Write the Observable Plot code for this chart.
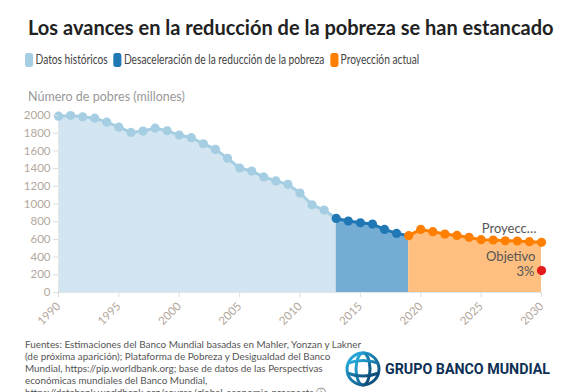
<!DOCTYPE html>
<html><head><meta charset="utf-8">
<script src="https://cdn.jsdelivr.net/npm/d3@7"></script>
<script src="https://cdn.jsdelivr.net/npm/@observablehq/plot@0.6"></script>
<style>
body{margin:0;width:584px;height:392px;overflow:hidden;background:#fff;font-family:Lato,"Open Sans",sans-serif;position:relative}
#title{position:absolute;left:28px;top:15px;font-size:20px;font-weight:700;color:#222;white-space:nowrap}
#legend{position:absolute;left:25px;top:52px;font-size:12.6px;color:#444;display:flex;gap:7px;white-space:nowrap;transform:scaleX(0.81);transform-origin:0 0}
#legend span.sw{display:inline-block;width:10px;height:14px;border-radius:3px;vertical-align:-3px;margin-right:3px}
#ytitle{position:absolute;left:28px;top:89px;font-size:12.5px;color:#999}
#chart{position:absolute;left:0;top:105px}
#caption{position:absolute;left:25px;top:338px;font-size:9.9px;line-height:12px;color:#555;white-space:nowrap}
#logo{position:absolute;left:343px;top:348px}
</style></head>
<body>
<div id="title">Los avances en la reducción de la pobreza se han estancado</div>
<div id="legend"></div>
<div id="ytitle">Número de pobres (millones)</div>
<div id="chart"></div>
<div id="caption">Fuentes: Estimaciones del Banco Mundial basadas en Mahler, Yonzan y Lakner<br>(de próxima aparición); Plataforma de Pobreza y Desigualdad del Banco<br>Mundial, https://pip.worldbank.org; base de datos de las Perspectivas<br>económicas mundiales del Banco Mundial,<br>https://databank.worldbank.org/source/global-economic-prospects ⓘ</div>
<svg id="logo" width="235" height="44" viewBox="0 0 235 44">
  <defs><linearGradient id="g" x1="0" y1="0" x2="1" y2="1"><stop offset="0" stop-color="#29b6e8"/><stop offset="1" stop-color="#0a3d6b"/></linearGradient></defs>
  <g fill="none" stroke="url(#g)" stroke-width="3">
    <circle cx="20" cy="21" r="16"/>
    <ellipse cx="20" cy="21" rx="7" ry="16"/>
    <path d="M5 15 Q20 10 35 15 M4 25 Q20 31 36 25"/>
  </g>
  <text x="42" y="26" font-family="Roboto, sans-serif" font-weight="700" font-size="15.5" fill="#0d2f55" textLength="165" lengthAdjust="spacingAndGlyphs">GRUPO BANCO MUNDIAL</text>
</svg>
<script>
const years = d3.range(1990, 2031);
const poor = [1992,2000,1985,1970,1925,1868,1809,1824,1857,1827,1779,1749,1681,1617,1516,1407,1373,1306,1261,1222,1124,991,931,837,807,788,773,713,668,642,713,687,660,645,623,597,593,585,582,574,567];
const segNames = ["Datos históricos","Desaceleración de la reducción de la pobreza","Proyección actual"];
const segRanges = [[1990,2013],[2013,2019],[2019,2030]];
const lineColors = ["#a6cee3","#1f78b4","#ff7f00"];
const fillColors = ["#d2e5f1","#74acd4","#ffbf80"];
const targetYear = 2030, targetValue = 248;
const xTicks = [1990,1995,2000,2005,2010,2015,2020,2025,2030];
const yTicks = d3.range(0, 2001, 200);

const data = years.map((y,i)=>({year:y, value:poor[i]}));
const seg = k => data.filter(d => d.year >= segRanges[k][0] && d.year <= segRanges[k][1]);
const pointSeg = d => d.year <= 2012 ? 0 : d.year <= 2018 ? 1 : 2;

const leg = document.getElementById("legend");
segNames.forEach((n,k)=>{
  const s=document.createElement("span");
  s.innerHTML=`<span class="sw" style="background:${lineColors[k]}"></span>${n}`;
  leg.appendChild(s);
});

const marks = [];
[0,1,2].forEach(k=>{
  marks.push(Plot.areaY(seg(k), {x:"year", y:"value", fill:fillColors[k]}));
});
marks.push(Plot.ruleY([0], {stroke:"#dde6ee"}));
marks.push(Plot.ruleX([1990], {stroke:"#e6e6e6"}));
[0,1,2].forEach(k=>{
  marks.push(Plot.line(seg(k), {x:"year", y:"value", stroke:lineColors[k], strokeWidth:3}));
});
marks.push(Plot.dot(data, {x:"year", y:"value", r:4.6, fill:d=>lineColors[pointSeg(d)], stroke:"none"}));
marks.push(Plot.dot([{year:targetYear,value:targetValue}], {x:"year", y:"value", r:4.6, fill:"#e31a1c"}));
marks.push(Plot.text([data[data.length-1]], {x:"year", y:"value", text:()=> "Proyecc…", textAnchor:"end", dx:-5, dy:-13, fontSize:13, fill:"#555"}));
marks.push(Plot.text([{year:targetYear,value:targetValue}], {x:"year", y:"value", text:()=> "Objetivo", textAnchor:"end", dx:-6, dy:-14, fontSize:13, fill:"#555"}));
marks.push(Plot.text([{year:targetYear,value:targetValue}], {x:"year", y:"value", text:()=> "3%", textAnchor:"end", dx:-7, dy:1, fontSize:13, fill:"#555"}));

const chart = Plot.plot({
  width:584, height:222,
  marginLeft:58, marginRight:43, marginTop:10, marginBottom:35,
  style:{fontFamily:"Lato, sans-serif", fontSize:"11.5px", color:"#b3a89d", background:"transparent"},
  x:{domain:[1990,2030], label:null},
  y:{domain:[0,2000], label:null},
  marks:[
    ...marks,
    Plot.axisX({ticks:xTicks, tickFormat:d=>String(d), tickRotate:-45, tickSize:5, stroke:"#ddd", fill:"#b3a89d", label:null}),
    Plot.axisY({ticks:yTicks, tickFormat:d=>String(d), tickSize:5, tickPadding:3, stroke:"#ddd", fill:"#b3a89d", label:null})
  ]
});
document.getElementById("chart").appendChild(chart);
</script>
</body></html>
